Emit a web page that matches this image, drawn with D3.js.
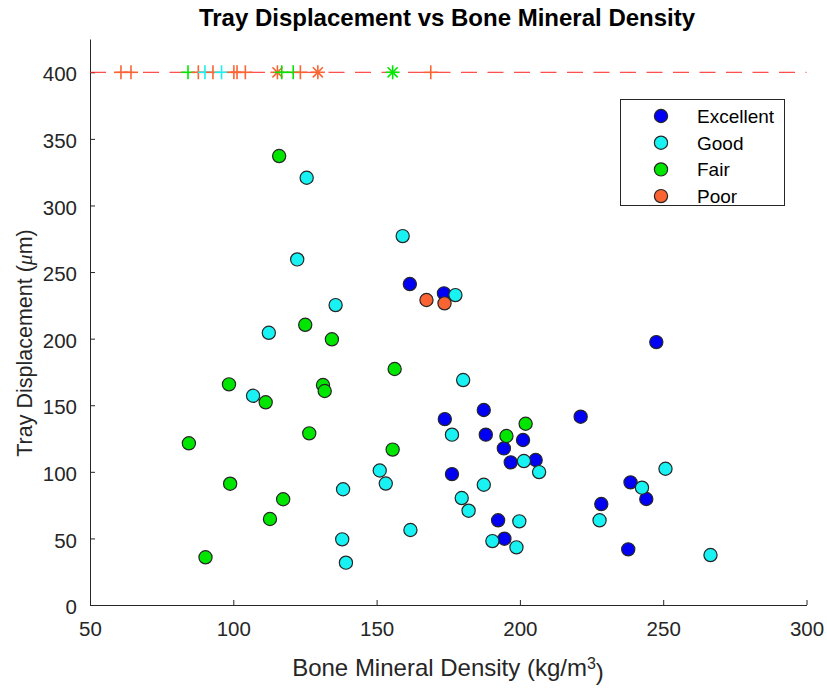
<!DOCTYPE html>
<html>
<head>
<meta charset="utf-8">
<script src="https://cdn.jsdelivr.net/npm/d3@7"></script>
<style>
  html, body { margin: 0; padding: 0; background: #fff; }
  svg { display: block; font-family: "Liberation Sans", Arial, sans-serif; }
</style>
</head>
<body>
<svg id="chart" width="827" height="688"></svg>
<script>
// Quality categories and their colours
const categories = ["Excellent", "Good", "Fair", "Poor"];
const categoryColors = ["#0000f5", "#18f2f2", "#00e600", "#fa6432"];

// Bone mineral density (kg/m^3) and tray displacement (µm), one pair of arrays per category
const excellentBMD  = [161.6, 173.5, 247.6, 187.4, 173.8, 188.1, 201.1, 194.4, 221.2, 196.8, 205.5, 176.3, 238.6, 244.1, 228.4, 192.4, 194.6, 237.8];
const excellentDisp = [241.0, 234.0, 197.4, 146.4, 139.6, 127.9, 123.9, 117.6, 141.4, 107.1, 108.9,  98.3,  92.1,  79.6,  75.8,  63.6,  49.8,  41.8];

const goodBMD  = [125.6, 159.1, 122.3, 177.5, 135.7, 112.4, 180.2, 106.9, 176.3, 250.8, 206.7, 201.4, 187.4, 242.6, 151.1, 153.2, 138.3, 179.7, 182.1, 227.8, 199.8, 161.8, 138.0, 190.4, 198.8, 139.3, 266.5];
const goodDisp = [320.8, 277.0, 259.5, 232.7, 225.2, 204.4, 168.9, 157.1, 127.9, 102.3,  99.8, 108.1,  90.3,  88.1, 101.0,  91.2,  86.9,  80.3,  70.8,  63.6,  62.8,  56.3,  49.3,  48.0,  43.3,  31.8,  37.5];

const fairBMD  = [116.0, 125.1, 134.4, 156.3,  98.5, 131.3, 131.9, 111.3,  84.5, 126.5, 202.0, 195.3, 155.6,  98.9, 117.4, 112.8,  90.3];
const fairDisp = [337.1, 210.4, 199.5, 177.2, 165.7, 165.2, 160.7, 152.2, 121.4, 128.9, 136.1, 126.9, 116.7,  91.1,  79.4,  64.6,  35.8];

const poorBMD  = [167.4, 173.7];
const poorDisp = [229.0, 226.5];

// Off-scale readings, drawn along the 400 µm limit line
const offscaleBMD      = [60.8, 64.3, 84.2, 87.8, 90.1, 92.9, 95.9, 100.2, 101.3, 104.2, 115.4, 116.9, 120.9, 123.4, 129.5, 155.6, 168.9];
const offscaleCategory = ["Poor", "Poor", "Fair", "Poor", "Good", "Poor", "Good", "Poor", "Poor", "Poor", "Poor", "Fair", "Fair", "Poor", "Poor", "Fair", "Poor"];
const offscaleMarker   = ["+", "+", "+", "+", "+", "+", "+", "+", "+", "+", "*", "+", "+", "+", "*", "*", "+"];
const displacementLimit = 400;

// Axis ticks
const xTicks = [50, 100, 150, 200, 250, 300];
const yTicks = [0, 50, 100, 150, 200, 250, 300, 350, 400];

const seriesBMD  = [excellentBMD, goodBMD, fairBMD, poorBMD];
const seriesDisp = [excellentDisp, goodDisp, fairDisp, poorDisp];

const svg = d3.select("#chart");
const axisColor = "#262626";
const tickFont = "20.5px";

const x = d3.scaleLinear().domain([50, 300]).range([90, 806.5]);
const y = d3.scaleLinear().domain([0, 425]).range([605, 39]);
const color = d3.scaleOrdinal().domain(categories).range(categoryColors);

// Axes (ticks point inward)
const xAxis = d3.axisBottom(x).tickValues(xTicks).tickSizeInner(-5).tickSizeOuter(0).tickPadding(16);
const yAxis = d3.axisLeft(y).tickValues(yTicks).tickSizeInner(-5).tickSizeOuter(0).tickPadding(13);

const gx = svg.append("g").attr("transform", `translate(0,${y(0)})`).call(xAxis);
const gy = svg.append("g").attr("transform", `translate(${x(50)},0)`).call(yAxis);
[gx, gy].forEach(g => {
  g.select(".domain").attr("stroke", axisColor).attr("stroke-width", 1);
  g.selectAll(".tick line").attr("stroke", axisColor).attr("stroke-width", 1);
  g.selectAll(".tick text").attr("fill", axisColor).style("font-size", tickFont)
    .style("font-family", "'Liberation Sans', Arial, sans-serif");
});
gx.selectAll(".tick text").attr("dy", "0.72em");
gy.selectAll(".tick text").attr("dy", "0.42em");

// Limit line
svg.append("line")
  .attr("x1", x(50)).attr("x2", x(300))
  .attr("y1", y(displacementLimit)).attr("y2", y(displacementLimit))
  .attr("stroke", "#ff2020").attr("stroke-width", 1)
  .attr("stroke-dasharray", "16,10.5");

// Off-scale markers
const offscale = offscaleBMD.map((v, i) => ({ bmd: v, cat: offscaleCategory[i], mk: offscaleMarker[i] }));
const ms = 7;
const offG = svg.append("g");
offscale.forEach(d => {
  const cx = x(d.bmd), cy = y(displacementLimit);
  const g = offG.append("g").attr("stroke", color(d.cat)).attr("stroke-width", 1.6);
  g.append("line").attr("x1", cx - ms).attr("x2", cx + ms).attr("y1", cy).attr("y2", cy);
  g.append("line").attr("x1", cx).attr("x2", cx).attr("y1", cy - ms).attr("y2", cy + ms);
  if (d.mk === "*") {
    const k = ms * 0.72;
    g.append("line").attr("x1", cx - k).attr("x2", cx + k).attr("y1", cy - k).attr("y2", cy + k);
    g.append("line").attr("x1", cx - k).attr("x2", cx + k).attr("y1", cy + k).attr("y2", cy - k);
  }
});

// Scatter points
categories.forEach((c, i) => {
  const pts = seriesBMD[i].map((v, j) => ({ bmd: v, disp: seriesDisp[i][j] }));
  svg.append("g").selectAll("circle").data(pts).join("circle")
    .attr("cx", d => x(d.bmd))
    .attr("cy", d => y(d.disp))
    .attr("r", 6.6)
    .attr("fill", color(c))
    .attr("stroke", "#262626")
    .attr("stroke-width", 1.2);
});

// Legend
const legend = svg.append("g");
legend.append("rect")
  .attr("x", 620.5).attr("y", 99.5).attr("width", 164).attr("height", 106)
  .attr("fill", "#fff").attr("stroke", axisColor).attr("stroke-width", 1);
categories.forEach((c, i) => {
  const ly = 116 + i * 26.7;
  legend.append("circle").attr("cx", 661).attr("cy", ly).attr("r", 6.6)
    .attr("fill", color(c)).attr("stroke", "#262626").attr("stroke-width", 1.2);
  legend.append("text").attr("x", 697).attr("y", ly).attr("dy", "0.36em")
    .attr("fill", "#000").style("font-size", "19px").text(c);
});

// Title
svg.append("text")
  .attr("x", 447).attr("y", 26)
  .attr("text-anchor", "middle")
  .attr("fill", "#000")
  .style("font-size", "24px").style("font-weight", "bold")
  .text("Tray Displacement vs Bone Mineral Density");

// X label
const xl = svg.append("text")
  .attr("x", 448).attr("y", 676)
  .attr("text-anchor", "middle")
  .attr("fill", axisColor)
  .style("font-size", "24px");
xl.append("tspan").text("Bone Mineral Density (kg/m");
xl.append("tspan").attr("dy", "-0.45em").style("font-size", "16px").text("3");
xl.append("tspan").attr("dy", "0.45em").text(")");

// Y label
const yl = svg.append("text")
  .attr("transform", "translate(32,343) rotate(-90)")
  .attr("text-anchor", "middle")
  .attr("fill", axisColor)
  .style("font-size", "21.5px");
yl.append("tspan").text("Tray Displacement (");
yl.append("tspan").style("font-style", "italic").style("font-family", "'Liberation Serif', 'Times New Roman', serif").text("μ");
yl.append("tspan").text("m)");
</script>
</body>
</html>
